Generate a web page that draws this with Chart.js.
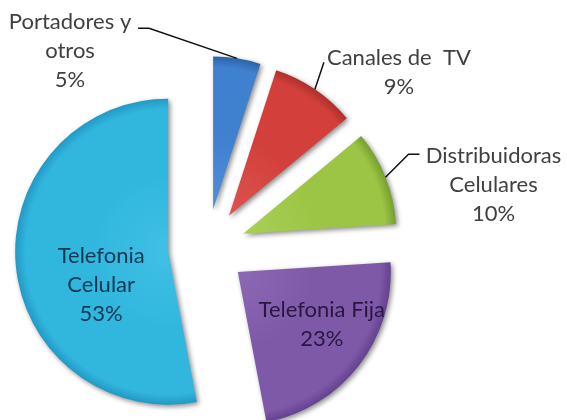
<!DOCTYPE html>
<html lang="es">
<head>
<meta charset="utf-8">
<script src="https://cdn.jsdelivr.net/npm/chart.js@4.4.1/dist/chart.umd.min.js"></script>
<style>
  html, body { margin: 0; padding: 0; background: #fff; }
  #wrap { width: 567px; height: 420px; position: relative; }
</style>
</head>
<body>
<div id="wrap"><canvas id="torta"></canvas></div>
<script>
// Datos del gráfico
const categorias = ['Portadores y otros', 'Canales de TV', 'Distribuidoras Celulares', 'Telefonia Fija', 'Telefonia Celular'];
const porcentajes = [5, 9, 10, 23, 53];
const lineasEtiqueta = [['Portadores y', 'otros'], ['Canales de  TV'], ['Distribuidoras', 'Celulares'], ['Telefonia Fija'], ['Telefonia', 'Celular']];

// Estilos
const colores = ['#3f80cf', '#d3403b', '#9cc545', '#7e59a8', '#31b7de'];
const coloresClaros = ['#4f8ed8', '#dc5450', '#a8d056', '#8c68b4', '#40c0e5'];
const coloresBorde = ['#2d63aa', '#ad2f2b', '#759f30', '#634290', '#2299c4'];

const RADIO = 153;
const SEPARACION = 39; // px que se aleja cada porción del centro
const FUENTE = '22px Lato, "Open Sans", sans-serif';
const INTERLINEA = 29;

// Posición de textos y líneas guía (relativa al borde exterior o al vértice de cada porción)
const etiquetasConf = [
  { ref: 'borde', texto: [-167, -36], guia: [[0, 0], [-88, -30], [-99, -30]], color: '#404040' },
  { ref: 'borde', texto: [84, -31], guia: [[0, 0], [9, -27]], color: '#404040' },
  { ref: 'borde', texto: [108, -21], guia: [[0, 0], [23, -23], [34, -23]], color: '#404040' },
  { ref: 'vertice', texto: [84, 38], guia: null, color: '#2a1740' },
  { ref: 'vertice', texto: [-67, 4], guia: null, color: '#0d3852' }
];

// Dibuja cada porción separada del centro (mismo desplazamiento para todas) con sombra difusa
const separarPlugin = {
  id: 'separar',
  beforeDatasetsDraw(chart) {
    const c = chart.ctx;
    const meta = chart.getDatasetMeta(0);
    c.save();
    c.shadowColor = 'rgba(0,0,0,0.45)';
    c.shadowBlur = 5;
    c.shadowOffsetX = 2;
    c.shadowOffsetY = 2;
    meta.data.forEach(arc => {
      const mid = (arc.startAngle + arc.endAngle) / 2;
      c.save();
      c.translate(Math.cos(mid) * SEPARACION, Math.sin(mid) * SEPARACION);
      arc.draw(c, chart.chartArea);
      c.restore();
    });
    c.restore();
    return false;
  }
};

const etiquetasPlugin = {
  id: 'etiquetas',
  afterDraw(chart) {
    const c = chart.ctx;
    const meta = chart.getDatasetMeta(0);
    c.save();
    c.font = FUENTE;
    c.textAlign = 'center';
    c.textBaseline = 'middle';
    meta.data.forEach((arc, i) => {
      const conf = etiquetasConf[i];
      const mid = (arc.startAngle + arc.endAngle) / 2;
      const vx = arc.x + Math.cos(mid) * SEPARACION;
      const vy = arc.y + Math.sin(mid) * SEPARACION;
      let bx = vx, by = vy;
      if (conf.ref === 'borde') {
        bx = vx + Math.cos(mid) * arc.outerRadius;
        by = vy + Math.sin(mid) * arc.outerRadius;
      }
      if (conf.guia) {
        c.beginPath();
        conf.guia.forEach(([dx, dy], k) => {
          if (k === 0) c.moveTo(bx + dx, by + dy); else c.lineTo(bx + dx, by + dy);
        });
        c.strokeStyle = '#111';
        c.lineWidth = 1.5;
        c.stroke();
      }
      const lineas = lineasEtiqueta[i].concat([porcentajes[i] + '%']);
      c.fillStyle = conf.color;
      lineas.forEach((t, k) => {
        c.fillText(t, bx + conf.texto[0], by + conf.texto[1] + k * INTERLINEA);
      });
    });
    c.restore();
  }
};

function fondoPorcion(ctx) {
  const i = ctx.dataIndex;
  const chart = ctx.chart;
  const a = chart.chartArea;
  if (!a) return colores[i];
  const cx = (a.left + a.right) / 2;
  const cy = (a.top + a.bottom) / 2;
  // el contexto ya está trasladado al dibujar, así que el degradado sigue a la porción
  const g = chart.ctx.createRadialGradient(cx, cy, 0, cx, cy, RADIO);
  g.addColorStop(0, coloresClaros[i]);
  g.addColorStop(0.5, colores[i]);
  g.addColorStop(0.93, colores[i]);
  g.addColorStop(1, coloresBorde[i]);
  return g;
}

new Chart(document.getElementById('torta'), {
  type: 'pie',
  data: {
    labels: categorias,
    datasets: [{
      data: porcentajes,
      backgroundColor: fondoPorcion,
      borderWidth: 0,
      offset: 0,
      hoverOffset: 0
    }]
  },
  options: {
    responsive: true,
    maintainAspectRatio: false,
    animation: false,
    radius: RADIO,
    layout: { padding: { left: 0, right: 153, top: 76, bottom: 0 } },
    events: [],
    plugins: {
      legend: { display: false },
      tooltip: { enabled: false }
    }
  },
  plugins: [separarPlugin, etiquetasPlugin]
});
</script>
</body>
</html>
